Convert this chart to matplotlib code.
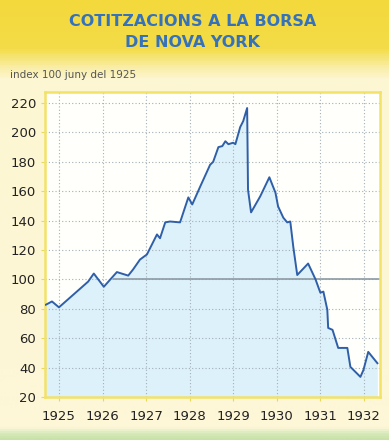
import numpy as np
import matplotlib
matplotlib.use("Agg")
import matplotlib.pyplot as plt
from matplotlib.colors import LinearSegmentedColormap

# ---- data ----
years = [1924.70, 1924.84, 1925.00, 1925.67, 1925.80, 1926.03, 1926.33, 1926.59,
         1926.70, 1926.86, 1927.02, 1927.25, 1927.32, 1927.44, 1927.55, 1927.78,
         1927.97, 1928.06, 1928.24, 1928.47, 1928.54, 1928.66, 1928.75, 1928.82,
         1928.89, 1929.00, 1929.05, 1929.16, 1929.23, 1929.32, 1929.34, 1929.41,
         1929.62, 1929.83, 1929.97, 1930.03, 1930.15, 1930.24, 1930.31, 1930.38,
         1930.47, 1930.72, 1930.89, 1931.00, 1931.07, 1931.16, 1931.18, 1931.28,
         1931.41, 1931.62, 1931.69, 1931.92, 1931.99, 1932.10, 1932.31]
index = [82.8, 85.0, 81.0, 98.5, 104.0, 95.0, 105.0, 102.6,
         106.7, 113.5, 117.0, 130.6, 128.0, 138.8, 139.4, 138.8,
         155.8, 151.0, 163.0, 178.0, 180.0, 190.0, 190.7, 194.0,
         192.0, 193.0, 192.0, 203.6, 207.7, 216.6, 161.0, 145.6,
         156.5, 169.5, 159.0, 149.7, 142.0, 138.8, 139.4, 122.0,
         103.0, 110.8, 100.0, 91.0, 91.7, 79.4, 67.0, 65.7,
         53.4, 53.4, 40.5, 33.7, 38.4, 50.7, 43.0]
xtick_years = [1925, 1926, 1927, 1928, 1929, 1930, 1931, 1932]
ytick_vals = [20, 40, 60, 80, 100, 120, 140, 160, 180, 200, 220]
title_lines = ["COTITZACIONS A LA BORSA", "DE NOVA YORK"]
subtitle = "index 100 juny del 1925"
reference_level = 100

fig = plt.figure(figsize=(3.89, 4.40), dpi=100)

# background gradient (yellow band at top, pale yellow below)
bg = fig.add_axes([0, 0, 1, 1], zorder=-10)
bg.set_axis_off()
cmap = LinearSegmentedColormap.from_list(
    "bg", [(0.0, "#f3d93c"), (0.11, "#f4dc48"), (0.15, "#f9eda0"),
           (0.18, "#fdf6d2"), (0.975, "#fdf7d8"), (0.985, "#dcecc0"), (1.0, "#c9e2a8")])
grad = np.linspace(0, 1, 440).reshape(-1, 1)
bg.imshow(grad, aspect="auto", cmap=cmap, extent=[0, 1, 0, 1], origin="upper")
bg.set_xlim(0, 1); bg.set_ylim(0, 1)

fig.text(0.494, 0.951, title_lines[0], ha="center", va="center",
         fontsize=11.5, fontweight="bold", color="#3572ba", family="DejaVu Sans")
fig.text(0.494, 0.904, title_lines[1], ha="center", va="center",
         fontsize=11.5, fontweight="bold", color="#3572ba", family="DejaVu Sans")
fig.text(0.026, 0.829, subtitle, ha="left", va="center",
         fontsize=7.5, color="#555555")

ax = fig.add_axes([0.1157, 0.0977, 0.9769 - 0.1157, 0.7909 - 0.0977])
ax.set_facecolor("#fffffb")
ax.set_xlim(1924.68, 1932.37)
ax.set_ylim(20, 227.5)

ax.fill_between(years, index, 20, color="#ddf1fa", zorder=1, lw=0)
ax.hlines(reference_level, 1926.25, 1932.37, color="#8c9aa3", lw=1.2, zorder=2)
ax.plot(years, index, color="#2f5fa8", lw=1.4, zorder=4)

ax.set_xticks(xtick_years)
ax.set_xticklabels([str(y) for y in xtick_years])
ax.set_yticks(ytick_vals)
ax.grid(True, color="#a3afb8", lw=0.8, linestyle=(0, (1, 2)), zorder=3)
for line in ax.get_xgridlines() + ax.get_ygridlines():
    line.set_zorder(3)

ax.tick_params(axis="both", labelsize=9.5, colors="#e8d860", labelcolor="#222222",
               length=3, width=0.8)
ax.tick_params(axis="x", pad=6)
for s in ax.spines.values():
    s.set_color("#f2e268")
    s.set_linewidth(1.8)

fig.savefig("out.png", dpi=100)
